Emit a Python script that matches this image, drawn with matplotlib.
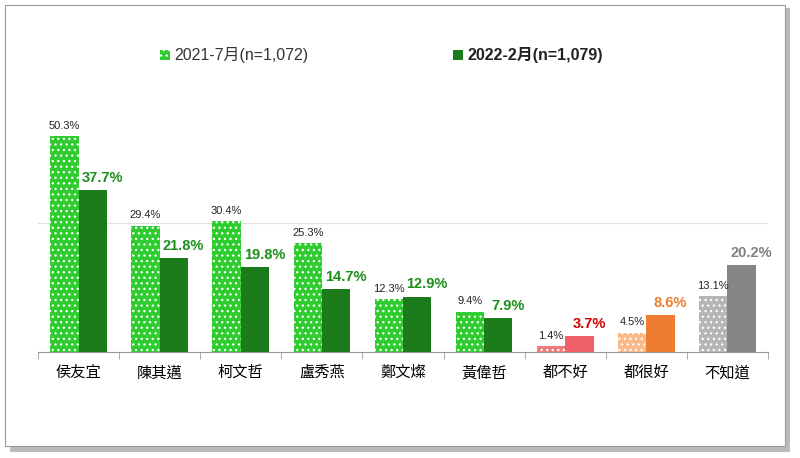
import matplotlib
matplotlib.use("Agg")
import matplotlib.pyplot as plt
from matplotlib.patches import Rectangle
import numpy as np

plt.rcParams['font.family'] = ['Liberation Sans', 'Noto Sans CJK TC']
plt.rcParams['hatch.linewidth'] = 0.9

categories = ["侯友宜", "陳其邁", "柯文哲", "盧秀燕", "鄭文燦", "黃偉哲", "都不好", "都很好", "不知道"]
s2021 = [50.3, 29.4, 30.4, 25.3, 12.3, 9.4, 1.4, 4.5, 13.1]
s2022 = [37.7, 21.8, 19.8, 14.7, 12.9, 7.9, 3.7, 8.6, 20.2]
legend_labels = ["2021-7月(n=1,072)", "2022-2月(n=1,079)"]

light = ['#2ecc2e']*6 + ['#f27a7a', '#f9b98a', '#b5b5b5']
dark = ['#1c7c1c']*6 + ['#f0606a', '#ee7d31', '#858585']
lblc = ['#1a8f1a']*6 + ['#d00000', '#ee7d31', '#808080']

fig = plt.figure(figsize=(8, 4.58), dpi=100)
fig.patches.append(Rectangle((10/800, 1-452/458), 780/800, 444/458, transform=fig.transFigure,
                             facecolor='#bbbbbb', edgecolor='none', zorder=0))
fig.patches.append(Rectangle((5/800, 1-446/458), 780/800, 441/458, transform=fig.transFigure,
                             facecolor='white', edgecolor='#999999', lw=0.8, zorder=1))

ax = fig.add_axes([38/800, 1-352/458, 730/800, 258/458])
ax.set_zorder(2)
ax.patch.set_alpha(0)
x = np.arange(len(categories))
w = 0.35
for i in range(len(categories)):
    ax.bar(x[i]-w/2, s2021[i], w, color=light[i], hatch='...', edgecolor='white', linewidth=0, zorder=3)
    ax.bar(x[i]+w/2, s2022[i], w, color=dark[i], linewidth=0, zorder=3)
    ax.text(x[i]-w/2, s2021[i]+1.2, f"{s2021[i]}%", ha='center', va='bottom', fontsize=8, color='#222222')
    ax.text(x[i]+w/2+0.12, s2022[i]+1.2, f"{s2022[i]}%", ha='center', va='bottom', fontsize=10.5,
            fontweight='bold', color=lblc[i])
ax.set_ylim(0, 60)
ax.set_xlim(-0.5, len(categories)-0.5)
ax.axhline(30, color='#e0e0e0', lw=0.8, zorder=1)
ax.set_yticks([])
ax.set_xticks(x)
ax.set_xticklabels(categories, fontsize=11)
ax.tick_params(axis='x', length=0, pad=10)
ax.set_xticks(np.arange(-0.5, len(categories)), minor=True)
ax.tick_params(axis='x', which='minor', length=5, color='#999999')
for s in ['top', 'right', 'left']:
    ax.spines[s].set_visible(False)
ax.spines['bottom'].set_color('#999999')

fig.patches.append(Rectangle((160/800, 1-60/458), 10/800, 10/458, transform=fig.transFigure,
                             facecolor=light[0], hatch='...', edgecolor='white', lw=0, zorder=3))
fig.text(174/800, 1-55/458, legend_labels[0], fontsize=11.5, va='center', color='#333333')
fig.patches.append(Rectangle((453/800, 1-60/458), 10/800, 10/458, transform=fig.transFigure,
                             facecolor=dark[0], lw=0, zorder=3))
fig.text(467/800, 1-55/458, legend_labels[1], fontsize=11.5, va='center', color='#222222', fontweight='bold')

fig.savefig("out.png", dpi=100)
